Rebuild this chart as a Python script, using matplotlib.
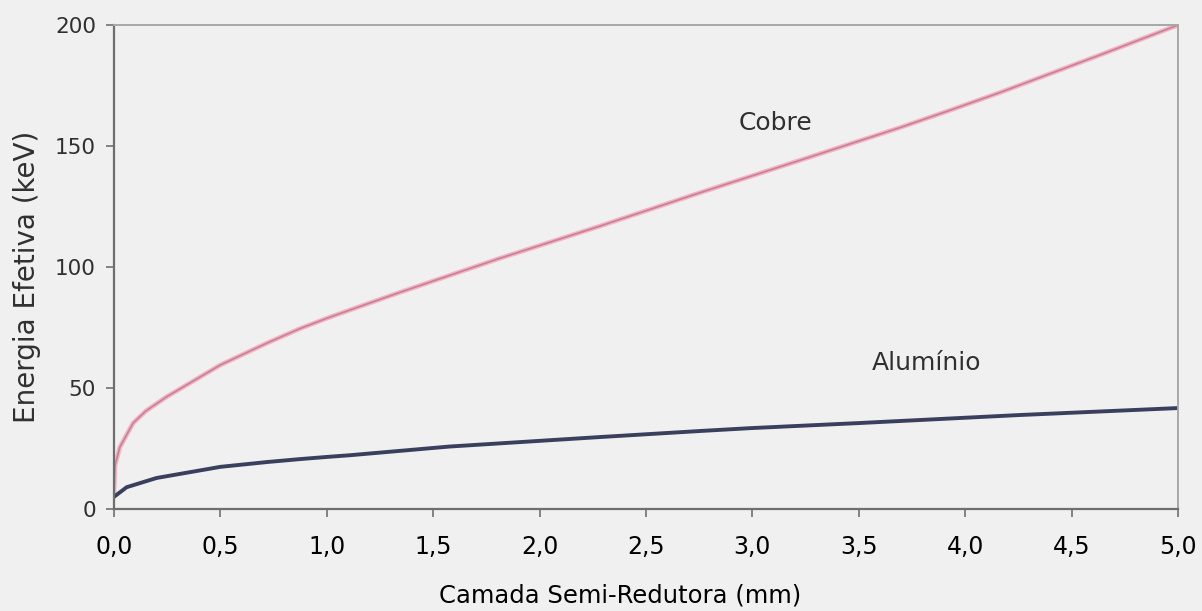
import numpy as np
import matplotlib.pyplot as plt

# Camada semi-redutora (mm) e energia efetiva (keV)
x_cobre = [0.0, 0.005, 0.028, 0.09, 0.15, 0.25, 0.5, 0.72, 0.873, 1.0, 1.108, 1.343,
           1.81, 2.28, 2.75, 3.22, 3.69, 3.92, 4.16, 4.63, 5.0]
e_cobre = [6.6, 18, 25.6, 35.5, 40.5, 46.5, 59.5, 68.6, 74.5, 78.8, 82.2, 89.5,
           103.5, 116.8, 130.6, 144, 157.5, 164.5, 172, 187.5, 200]

x_alum = [0.0, 0.06, 0.2, 0.5, 0.72, 0.873, 1.0, 1.108, 1.577, 2.28, 2.75,
          2.99, 3.5, 4.25, 5.0]
e_alum = [5, 9, 12.8, 17.4, 19.4, 20.6, 21.5, 22.2, 25.8, 29.7, 32.2,
          33.4, 35.5, 38.8, 41.7]

xticks = np.arange(0, 5.01, 0.5)
xtick_labels = [f"{v:.1f}".replace(".", ",") for v in xticks]
yticks = [0, 50, 100, 150, 200]

bg = '#f0f0f0'
fig = plt.figure(figsize=(12.02, 6.11), dpi=100, facecolor=bg)
ax = fig.add_axes([0.0948, 0.167, 0.8852, 0.792], facecolor=bg)

# Cobre: linha rosa com nucleo mais escuro
ax.plot(x_cobre, e_cobre, color='#f2b6c6', linewidth=3.4, solid_capstyle='round')
ax.plot(x_cobre, e_cobre, color='#cc8296', linewidth=1.3)
ax.plot(x_alum, e_alum, color='#3b3f5e', linewidth=2.8)

ax.text(3.11, 159.5, "Cobre", fontsize=18, color='#303030', ha='center', va='center')
ax.text(3.82, 60.5, "Alumínio", fontsize=18, color='#303030', ha='center', va='center')

ax.set_xlim(0, 5.0)
ax.set_ylim(0, 200)
ax.set_xticks(xticks)
ax.set_xticklabels(xtick_labels, fontsize=17, color='black')
ax.set_yticks(yticks)
ax.set_yticklabels([str(v) for v in yticks], fontsize=15.5, color='#303030')
ax.tick_params(axis='both', direction='out', length=6, width=1.2, color='#707070')
ax.tick_params(axis='x', pad=13)
ax.tick_params(axis='y', pad=7)

ax.set_xlabel("Camada Semi-Redutora (mm)", fontsize=17.5)
ax.xaxis.set_label_coords(0.476, -0.155)
ax.set_ylabel("Energia Efetiva (keV)", fontsize=20, color='#303030')
ax.yaxis.set_label_coords(-0.069, 0.479)

for s in ['left', 'bottom']:
    ax.spines[s].set_color('#6e6e6e')
    ax.spines[s].set_linewidth(1.6)
for s in ['top', 'right']:
    ax.spines[s].set_color('#a8a8a8')
    ax.spines[s].set_linewidth(1.4)

fig.savefig('out.png', dpi=100, facecolor=bg)
